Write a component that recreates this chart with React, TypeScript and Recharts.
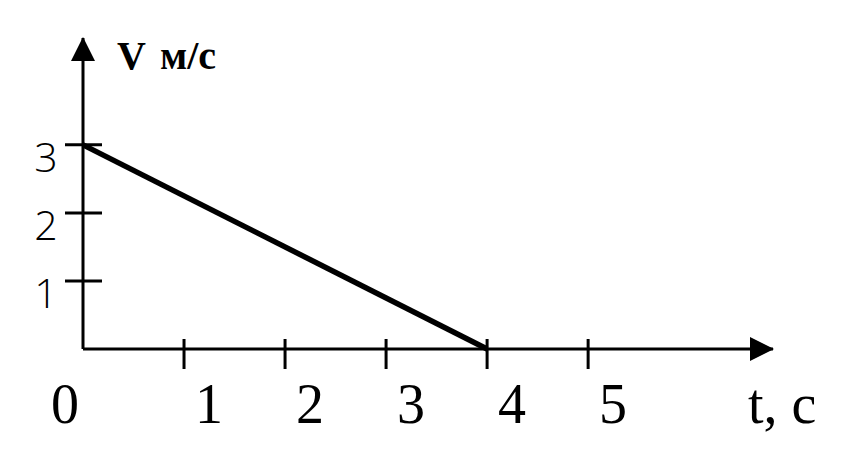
import React from "react";
import { LineChart, Line, XAxis, YAxis } from "recharts";

const timeValues = [0, 4];
const speedValues = [3, 0];
const xTickValues = [0, 1, 2, 3, 4, 5];
const yTickValues = [1, 2, 3];
const xAxisTitle = "t, c";
const yAxisTitleMain = "V";
const yAxisTitleUnit = "м/с";

const data = timeValues.map((t, i) => ({ t, v: speedValues[i] }));

const SERIF = "'Liberation Serif', 'Times New Roman', serif";
const SANS = "'Open Sans', 'Liberation Sans', Arial, sans-serif";

const XTick = (props: any) => {
  const { x, y, payload } = props;
  const isZero = payload.value === 0;
  return (
    <g>
      {!isZero && (
        <line x1={x} y1={y - 10} x2={x} y2={y + 20} stroke="#000" strokeWidth={3} />
      )}
      <text
        x={isZero ? x - 18 : x + 25}
        y={y + 74}
        textAnchor="middle"
        fontFamily={SERIF}
        fontSize={56}
        fill="#000"
      >
        {payload.value}
      </text>
    </g>
  );
};

const YTick = (props: any) => {
  const { x, y, payload } = props;
  return (
    <g>
      <line x1={x - 18} y1={y} x2={x + 19} y2={y} stroke="#000" strokeWidth={3} />
      <text
        x={x - 37}
        y={y + 27}
        textAnchor="middle"
        fontFamily={SANS}
        fontWeight={300}
        fontSize={41}
        fill="#000"
      >
        {payload.value}
      </text>
    </g>
  );
};

const YLabel = (props: any) => {
  const vb = props.viewBox || {};
  return (
    <text
      x={vb.x + vb.width + 34}
      y={vb.y + 31}
      fontFamily={SERIF}
      fontSize={40}
      fontWeight="bold"
      fill="#000"
    >
      <tspan>{yAxisTitleMain}</tspan>
      <tspan dx={14}>{yAxisTitleUnit}</tspan>
    </text>
  );
};

const XLabel = (props: any) => {
  const vb = props.viewBox || {};
  return (
    <text
      x={vb.x + vb.width - 25}
      y={vb.y + 74}
      fontFamily={SERIF}
      fontSize={56}
      fill="#000"
    >
      {xAxisTitle}
    </text>
  );
};

export default function App() {
  return (
    <div style={{ position: "absolute", left: 0, top: 0, width: 853, height: 454, background: "#fff" }}>
      <svg width={0} height={0} style={{ position: "absolute" }}>
        <defs>
          <marker
            id="arrowHead"
            markerWidth={24}
            markerHeight={24}
            refX={23}
            refY={12}
            orient="auto-start-reverse"
            markerUnits="userSpaceOnUse"
          >
            <path d="M0,0 L24,12 L0,24 Z" fill="#000" />
          </marker>
        </defs>
      </svg>
      <LineChart
        width={853}
        height={454}
        data={data}
        margin={{ top: 38, right: 80, bottom: 0, left: 0 }}
      >
        <XAxis
          dataKey="t"
          type="number"
          domain={[0, 6.83]}
          ticks={xTickValues}
          interval={0}
          tick={<XTick />}
          tickLine={false}
          tickSize={0}
          tickMargin={0}
          height={105}
          axisLine={{ stroke: "#000", strokeWidth: 3, markerEnd: "url(#arrowHead)" }}
          label={{ content: <XLabel /> }}
        />
        <YAxis
          type="number"
          domain={[0, 4.57]}
          ticks={yTickValues}
          interval={0}
          tick={<YTick />}
          tickLine={false}
          tickSize={0}
          tickMargin={0}
          width={83}
          axisLine={{ stroke: "#000", strokeWidth: 3, markerStart: "url(#arrowHead)" }}
          label={{ content: <YLabel /> }}
        />
        <Line
          dataKey="v"
          type="linear"
          stroke="#000"
          strokeWidth={5.5}
          dot={false}
          activeDot={false}
          isAnimationActive={false}
        />
      </LineChart>
    </div>
  );
}
